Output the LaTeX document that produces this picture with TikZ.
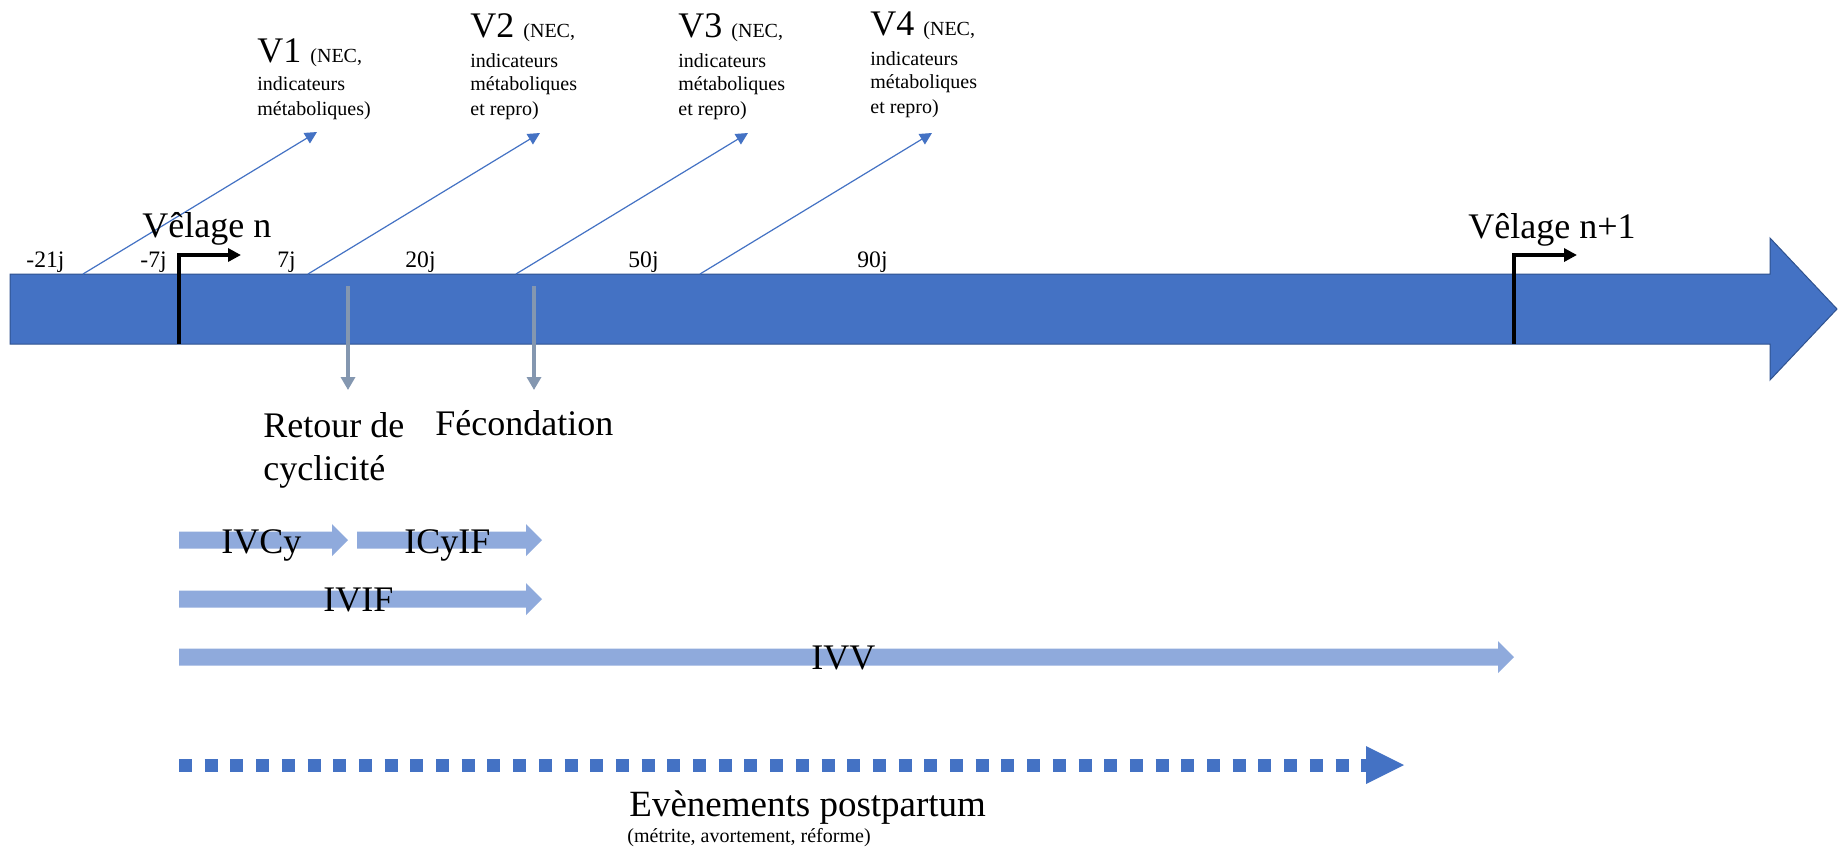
\documentclass[tikz,border=0pt]{standalone}
\usepackage{fontspec}
\setmainfont{Liberation Serif}
\usetikzlibrary{arrows.meta}
\definecolor{mainblue}{HTML}{4472C4}
\definecolor{edgeblue}{HTML}{2F528F}
\definecolor{lightblue}{HTML}{8FAADC}
\definecolor{grayblue}{HTML}{8497B0}
\newcommand{\blkarrow}[4]{%
  \fill[#4] (#1,#3-8.5) -- (#2-16,#3-8.5) -- (#2-16,#3-16) -- (#2,#3) -- (#2-16,#3+16) -- (#2-16,#3+8.5) -- (#1,#3+8.5) -- cycle;}
\begin{document}
\begin{tikzpicture}[x=0.5pt,y=-0.5pt,
  big/.style={font=\fontsize{18}{22}\selectfont, inner sep=0pt, anchor=base west},
  small/.style={font=\fontsize{10}{12}\selectfont, inner sep=0pt, anchor=base west},
  day/.style={font=\fontsize{11.8}{13}\selectfont, inner sep=0pt, anchor=base west},
  visit/.style={draw=mainblue, line width=0.6pt, -{Triangle[length=6pt,width=6pt]}},
  calving/.style={draw=black, line width=2.2pt, -{Triangle[length=6.5pt,width=6.5pt]}},
  event/.style={draw=grayblue, line width=2.3pt, -{Triangle[length=6.5pt,width=7pt]}},
]
\useasboundingbox (0,0) rectangle (1838,848);
\fill[white] (0,0) rectangle (1838,848);

% main timeline arrow
\filldraw[fill=mainblue, draw=edgeblue, line width=0.5pt]
  (10,274) -- (1770,274) -- (1770,238) -- (1837,309) -- (1770,380) -- (1770,344) -- (10,344) -- cycle;

% day labels
\node[day] (d21) at (26,267) {-21j};
\node[day] (d7m) at (140,267) {-7j};
\node[day] (d7) at (277,267) {7j};
\node[day] (d20) at (405,267) {20j};
\node[day] (d50) at (628,267) {50j};
\node[day] (d90) at (857,267) {90j};

% visits
\node[big] (v1) at (257,62) {V1 {\fontsize{10}{12}\selectfont(NEC,}};
\node[small] (v1b) at (257,90) {indicateurs};
\node[small] (v1c) at (257,115) {métaboliques)};

\node[big] (v2) at (470,37) {V2 {\fontsize{10}{12}\selectfont(NEC,}};
\node[small] (v2b) at (470,67) {indicateurs};
\node[small] (v2c) at (470,90) {métaboliques};
\node[small] (v2d) at (470,115) {et repro)};

\node[big] (v3) at (678,37) {V3 {\fontsize{10}{12}\selectfont(NEC,}};
\node[small] (v3b) at (678,67) {indicateurs};
\node[small] (v3c) at (678,90) {métaboliques};
\node[small] (v3d) at (678,115) {et repro)};

\node[big] (v4) at (870,35) {V4 {\fontsize{10}{12}\selectfont(NEC,}};
\node[small] (v4b) at (870,65) {indicateurs};
\node[small] (v4c) at (870,88) {métaboliques};
\node[small] (v4d) at (870,113) {et repro)};

\coordinate (a1) at (83,274);  \coordinate (t1) at (317,132);
\coordinate (a2) at (308,274); \coordinate (t2) at (540,133);
\coordinate (a3) at (516,274); \coordinate (t3) at (748,133);
\coordinate (a4) at (700,274); \coordinate (t4) at (932,133);
\draw[visit] (a1) -- (t1);
\draw[visit] (a2) -- (t2);
\draw[visit] (a3) -- (t3);
\draw[visit] (a4) -- (t4);

% calvings
\node[big] (vn) at (142,237) {Vêlage n};
\node[big] (vn1) at (1468,238) {Vêlage n+1};
\coordinate (c0) at (179,344); \coordinate (c1) at (241,255);
\coordinate (e0) at (1514,344); \coordinate (e1) at (1577,255);
\draw[calving] (c0) |- (c1);
\draw[calving] (e0) |- (e1);

% events
\coordinate (r0) at (348,286); \coordinate (r1) at (348,390);
\coordinate (f0) at (534,286); \coordinate (f1) at (534,390);
\draw[event] (r0) -- (r1);
\draw[event] (f0) -- (f1);
\node[big] (ret1) at (263,437) {Retour de};
\node[big] (ret2) at (263,480) {cyclicité};
\node[big] (fec) at (435,435) {Fécondation};

% intervals
\blkarrow{179}{348}{540}{lightblue}
\blkarrow{357}{542}{540}{lightblue}
\blkarrow{179}{542}{599}{lightblue}
\blkarrow{179}{1514}{657}{lightblue}
\node[big] (ivcy) at (221,553) {IVCy};
\node[big] (icyif) at (404,553) {ICyIF};
\node[big] (ivif) at (323,611) {IVIF};
\node[big] (ivv) at (811,669) {IVV};

% postpartum events
\coordinate (p0) at (179,765); \coordinate (p1) at (1366,765);
\draw[mainblue, line width=6.5pt, dash pattern=on 6.5pt off 6.35pt] (p0) -- (p1);
\fill[mainblue] (1366,746) -- (1404,765) -- (1366,784) -- cycle;
\node[big, font=\fontsize{18.5}{22}\selectfont] (pp) at (629,816) {Evènements postpartum};
\node[small] (pp2) at (627,842) {(métrite, avortement, réforme)};
\end{tikzpicture}
\end{document}
